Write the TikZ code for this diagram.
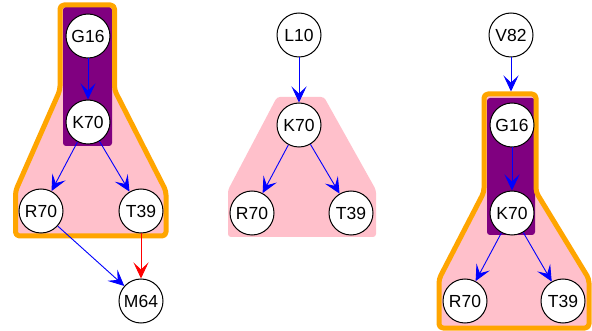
\documentclass[tikz,border=0pt]{standalone}
\usepackage{fontspec}
\setmainfont{Liberation Sans}
\usetikzlibrary{arrows.meta}
\definecolor{clpink}{HTML}{FFC0CB}
\definecolor{clpurple}{HTML}{800080}
\definecolor{clorange}{HTML}{FFA500}
\tikzset{
  vtx/.style={circle, draw=black, fill=white, line width=1pt, minimum size=44pt,
    inner sep=0pt, font=\fontsize{17.5}{20}\selectfont},
  edge/.style={draw=blue, line width=0.9pt,
    -{Stealth[length=16pt, width=15pt, inset=7pt]}},
  redge/.style={edge, draw=red},
  outerclust/.style={draw=clorange, line width=5pt, rounded corners=4pt, line join=round},
  pinkfill/.style={fill=clpink, rounded corners=3pt},
  innerclust/.style={fill=clpurple, rounded corners=3pt}
}
\begin{document}
\begin{tikzpicture}[x=1pt, y=-1pt]
\useasboundingbox (0,0) rectangle (592,331);

% left group: nested clusters
\fill[pinkfill] (60,5) -- (114.5,5) -- (114.5,90) -- (166,191) -- (166,236)
  -- (15.5,236) -- (15.5,191) -- (60,90) -- cycle;
\fill[innerclust] (63,7) rectangle (112,146);
\draw[outerclust] (60,5) -- (114.5,5) -- (114.5,90) -- (166,191) -- (166,236)
  -- (15.5,236) -- (15.5,191) -- (60,90) -- cycle;

% middle group: single cluster
\fill[pinkfill] (277,97) -- (324,97) -- (376,190) -- (376,237)
  -- (228,237) -- (228,190) -- cycle;

% right group: nested clusters
\fill[pinkfill] (484,94) -- (536,94) -- (536,192) -- (589,279) -- (589,328)
  -- (439,328) -- (439,279) -- (484,192) -- cycle;
\fill[innerclust] (487,98) rectangle (535,235);
\draw[outerclust] (484,94) -- (536,94) -- (536,192) -- (589,279) -- (589,328)
  -- (439,328) -- (439,279) -- (484,192) -- cycle;

% nodes
\node[vtx] (aG) at (88,36) {G16};
\node[vtx] (aK) at (88,122) {K70};
\node[vtx] (aR) at (41,211) {R70};
\node[vtx] (aT) at (141,211) {T39};
\node[vtx] (aM) at (141,301) {M64};

\node[vtx] (bL) at (299,35) {L10};
\node[vtx] (bK) at (299,125) {K70};
\node[vtx] (bR) at (252,213) {R70};
\node[vtx] (bT) at (351,213) {T39};

\node[vtx] (cV) at (511,35) {V82};
\node[vtx] (cG) at (512,125) {G16};
\node[vtx] (cK) at (512,213) {K70};
\node[vtx] (cR) at (465,301) {R70};
\node[vtx] (cT) at (563,301) {T39};
\coordinate (cTop) at (511,91.5);

% edges
\draw[edge] (aG) -- (aK);
\draw[edge] (aK) -- (aR);
\draw[edge] (aK) -- (aT);
\draw[edge] (aR) -- (aM);
\draw[redge] (aT) -- (aM);

\draw[edge] (bL) -- (bK);
\draw[edge] (bK) -- (bR);
\draw[edge] (bK) -- (bT);

\draw[edge] (cV) -- (cTop);
\draw[edge] (cG) -- (cK);
\draw[edge] (cK) -- (cR);
\draw[edge] (cK) -- (cT);
\end{tikzpicture}
\end{document}
